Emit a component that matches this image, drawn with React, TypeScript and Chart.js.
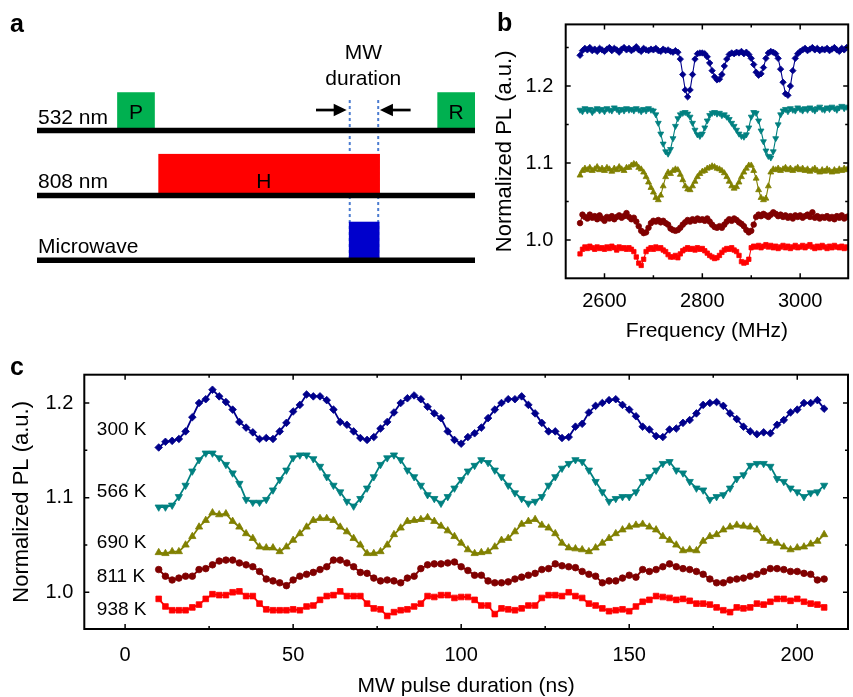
import { useEffect, useRef } from 'react';
import { Chart, registerables } from 'chart.js';
Chart.register(...registerables);

const FONT = '"Liberation Sans", Arial, Helvetica, sans-serif';
Chart.defaults.font.family = FONT;
Chart.defaults.color = '#000';

// ---------------- Panel a: pulse sequence (time in arbitrary units 0..100) ----------------
const rowNames = ['532 nm', '808 nm', 'Microwave'];
const rowLevels = [2, 1, 0];
const pulseNames = ['P', 'H', 'R', ''];
const pulseRow = [0, 1, 0, 2];
const pulseStart = [18.3, 27.7, 91.4, 71.2];
const pulseEnd = [26.9, 78.3, 100, 78.2];
const pulseHeight = [0.59, 0.64, 0.59, 0.595];
const pulseLabelAt = [22.6, 51.8, 95.7, 74.7];
const pulseColors = ['#00B050', '#FF0000', '#00B050', '#0000CC'];
const mwWindow = [71.4, 77.9];
const mwGuideTop = 2.47;
const arrowFrom = [63.7, 85.3];
const arrowTo = [70.7, 78.3];
const arrowLevel = 2.316;
const mwText = ['MW', 'duration'];
const mwTextLevel = [3.097, 2.7];
const mwTextAt = 74.5;

// ---------------- Panel b: ODMR spectra ----------------
const FREQ_START = 2550;
const FREQ_STEP = 5;
const odmr300 = [
  1.240, 1.246, 1.249, 1.247, 1.250, 1.246, 1.248, 1.245, 1.249, 1.247,
  1.245, 1.248, 1.250, 1.246, 1.249, 1.247, 1.244, 1.248, 1.250, 1.247,
  1.249, 1.246, 1.248, 1.251, 1.247, 1.245, 1.249, 1.247, 1.246, 1.248,
  1.247, 1.249, 1.246, 1.245, 1.248, 1.246, 1.247, 1.245, 1.244, 1.246,
  1.244, 1.235, 1.215, 1.195, 1.186, 1.195, 1.215, 1.235, 1.242, 1.243,
  1.243, 1.242, 1.238, 1.230, 1.220, 1.212, 1.208, 1.209, 1.215, 1.226,
  1.235, 1.241, 1.243, 1.242, 1.244, 1.243, 1.245, 1.242, 1.244, 1.241,
  1.236, 1.228, 1.218, 1.214, 1.216, 1.224, 1.236, 1.243, 1.245, 1.244,
  1.242, 1.236, 1.222, 1.205, 1.190, 1.188, 1.200, 1.220, 1.236, 1.242,
  1.245, 1.247, 1.249, 1.246, 1.248, 1.250, 1.247, 1.249, 1.246, 1.248,
  1.247, 1.249, 1.246, 1.248, 1.250, 1.247, 1.245, 1.249, 1.247, 1.250,
  1.251,
];
const odmr566 = [
  1.169, 1.167, 1.171, 1.168, 1.170, 1.166, 1.169, 1.171, 1.168, 1.170,
  1.167, 1.171, 1.169, 1.168, 1.172, 1.170, 1.167, 1.170, 1.168, 1.171,
  1.169, 1.170, 1.168, 1.171, 1.169, 1.167, 1.170, 1.168, 1.171, 1.169,
  1.168, 1.163, 1.152, 1.138, 1.125, 1.115, 1.112, 1.118, 1.132, 1.148,
  1.158, 1.163, 1.165, 1.166, 1.164, 1.160, 1.152, 1.143, 1.137, 1.135,
  1.138, 1.146, 1.155, 1.162, 1.165, 1.166, 1.164, 1.165, 1.162, 1.163,
  1.160, 1.157, 1.152, 1.148, 1.143, 1.138, 1.135, 1.134, 1.137, 1.146,
  1.160, 1.166, 1.165, 1.155, 1.142, 1.128, 1.116, 1.109, 1.107, 1.115,
  1.132, 1.150, 1.163, 1.168, 1.170, 1.167, 1.171, 1.169, 1.168, 1.172,
  1.170, 1.168, 1.171, 1.169, 1.172, 1.170, 1.168, 1.171, 1.173, 1.170,
  1.169, 1.172, 1.170, 1.173, 1.171, 1.169, 1.172, 1.174, 1.171, 1.173,
  1.172,
];
const odmr690 = [
  1.084, 1.090, 1.093, 1.091, 1.094, 1.090, 1.092, 1.095, 1.091, 1.093,
  1.090, 1.094, 1.092, 1.089, 1.093, 1.091, 1.095, 1.092, 1.090, 1.094,
  1.094, 1.097, 1.099, 1.098, 1.094, 1.092, 1.088, 1.082, 1.075, 1.068,
  1.062, 1.055, 1.052, 1.058, 1.070, 1.082, 1.088, 1.086, 1.090, 1.092,
  1.091, 1.085, 1.078, 1.070, 1.066, 1.065, 1.070, 1.076, 1.082, 1.086,
  1.089, 1.090, 1.093, 1.094, 1.096, 1.095, 1.093, 1.092, 1.090, 1.087,
  1.082, 1.076, 1.070, 1.067, 1.069, 1.075, 1.082, 1.088, 1.093, 1.097,
  1.097, 1.090, 1.080, 1.065, 1.055, 1.052, 1.054, 1.070, 1.088, 1.092,
  1.091, 1.093, 1.090, 1.092, 1.094, 1.091, 1.093, 1.090, 1.092, 1.094,
  1.091, 1.093, 1.090, 1.092, 1.089, 1.091, 1.093, 1.090, 1.088, 1.091,
  1.089, 1.092, 1.090, 1.088, 1.091, 1.089, 1.092, 1.090, 1.093, 1.091,
  1.094,
];
const odmr811 = [
  1.022, 1.033, 1.030, 1.028, 1.033, 1.029, 1.031, 1.027, 1.032, 1.028,
  1.025, 1.030, 1.028, 1.031, 1.027, 1.030, 1.032, 1.029, 1.031, 1.035,
  1.030, 1.027, 1.029, 1.024, 1.018, 1.012, 1.009, 1.010, 1.016, 1.022,
  1.025, 1.024, 1.026, 1.023, 1.025, 1.022, 1.020, 1.015, 1.013, 1.012,
  1.013, 1.016, 1.020, 1.023, 1.026, 1.024, 1.027, 1.025, 1.028, 1.026,
  1.027, 1.025, 1.028, 1.024, 1.020, 1.017, 1.016, 1.018, 1.016, 1.020,
  1.024, 1.027, 1.025, 1.028, 1.026, 1.023, 1.021, 1.018, 1.013, 1.010,
  1.012, 1.020, 1.030, 1.033, 1.031, 1.034, 1.032, 1.030, 1.033, 1.036,
  1.034, 1.031, 1.033, 1.030, 1.032, 1.029, 1.031, 1.028, 1.032, 1.030,
  1.032, 1.029, 1.031, 1.033, 1.030, 1.036, 1.029, 1.031, 1.028, 1.030,
  1.029, 1.031, 1.028, 1.030, 1.027, 1.031, 1.029, 1.032, 1.028, 1.030,
  1.031,
];
const odmr938 = [
  0.982, 0.988, 0.991, 0.989, 0.992, 0.990, 0.988, 0.991, 0.989, 0.990,
  0.988, 0.991, 0.989, 0.992, 0.990, 0.987, 0.991, 0.989, 0.990, 0.988,
  0.990, 0.988, 0.985, 0.978, 0.970, 0.967, 0.975, 0.985, 0.988, 0.990,
  0.988, 0.991, 0.989, 0.990, 0.987, 0.985, 0.981, 0.978, 0.978, 0.980,
  0.977, 0.982, 0.986, 0.988, 0.990, 0.988, 0.989, 0.987, 0.990, 0.988,
  0.989, 0.986, 0.983, 0.980, 0.978, 0.976, 0.977, 0.980, 0.984, 0.987,
  0.989, 0.988, 0.990, 0.987, 0.985, 0.980, 0.972, 0.970, 0.971, 0.975,
  0.990, 0.992, 0.991, 0.993, 0.990, 0.992, 0.994, 0.991, 0.993, 0.990,
  0.992, 0.989, 0.991, 0.993, 0.990, 0.992, 0.989, 0.991, 0.993, 0.990,
  0.991, 0.993, 0.990, 0.992, 0.994, 0.991, 0.989, 0.992, 0.990, 0.993,
  0.991, 0.989, 0.992, 0.990, 0.993, 0.991, 0.990, 0.992, 0.989, 0.991,
  0.990,
];
const freqMHz = odmr300.map((_, i) => FREQ_START + FREQ_STEP * i);

// ---------------- Panel c: Rabi oscillations ----------------
const T_START = 10;
const T_STEP = 2;
const rabi300 = [
  1.153, 1.159, 1.160, 1.162, 1.170, 1.185, 1.200, 1.204, 1.214, 1.207,
  1.201, 1.193, 1.180, 1.174, 1.169, 1.162, 1.163, 1.162, 1.170, 1.179,
  1.191, 1.198, 1.209, 1.207, 1.207, 1.203, 1.193, 1.180, 1.177, 1.170,
  1.163, 1.161, 1.164, 1.173, 1.180, 1.190, 1.200, 1.205, 1.208, 1.204,
  1.196, 1.189, 1.184, 1.170, 1.161, 1.157, 1.164, 1.168, 1.174, 1.184,
  1.193, 1.200, 1.204, 1.204, 1.207, 1.198, 1.189, 1.179, 1.170, 1.170,
  1.163, 1.164, 1.175, 1.178, 1.190, 1.197, 1.200, 1.203, 1.204, 1.198,
  1.193, 1.186, 1.175, 1.172, 1.165, 1.164, 1.172, 1.173, 1.179, 1.182,
  1.189, 1.198, 1.200, 1.201, 1.197, 1.189, 1.183, 1.175, 1.170, 1.167,
  1.169, 1.168, 1.177, 1.182, 1.190, 1.193, 1.200, 1.200, 1.203, 1.194,
];
const rabi566 = [
  1.090, 1.090, 1.092, 1.101, 1.113, 1.128, 1.140, 1.147, 1.147, 1.142,
  1.135, 1.126, 1.115, 1.098, 1.095, 1.095, 1.098, 1.108, 1.119, 1.129,
  1.142, 1.145, 1.145, 1.141, 1.133, 1.122, 1.113, 1.106, 1.096, 1.091,
  1.099, 1.110, 1.122, 1.135, 1.142, 1.145, 1.140, 1.129, 1.122, 1.113,
  1.103, 1.099, 1.094, 1.101, 1.110, 1.119, 1.128, 1.134, 1.140, 1.137,
  1.129, 1.122, 1.113, 1.105, 1.099, 1.094, 1.096, 1.101, 1.113, 1.122,
  1.131, 1.136, 1.140, 1.138, 1.129, 1.117, 1.106, 1.096, 1.099, 1.101,
  1.101, 1.106, 1.117, 1.122, 1.129, 1.136, 1.138, 1.129, 1.126, 1.117,
  1.110, 1.108, 1.098, 1.101, 1.103, 1.110, 1.120, 1.124, 1.134, 1.136,
  1.136, 1.133, 1.120, 1.117, 1.110, 1.106, 1.101, 1.105, 1.106, 1.113,
];
const rabi690 = [
  1.042, 1.041, 1.043, 1.043, 1.050, 1.059, 1.069, 1.076, 1.084, 1.082,
  1.083, 1.075, 1.069, 1.062, 1.057, 1.048, 1.047, 1.047, 1.043, 1.048,
  1.055, 1.062, 1.069, 1.076, 1.078, 1.078, 1.076, 1.069, 1.064, 1.057,
  1.050, 1.041, 1.041, 1.043, 1.050, 1.061, 1.068, 1.075, 1.076, 1.077,
  1.079, 1.075, 1.070, 1.065, 1.059, 1.052, 1.045, 1.041, 1.042, 1.043,
  1.048, 1.055, 1.057, 1.064, 1.072, 1.075, 1.077, 1.071, 1.068, 1.062,
  1.052, 1.047, 1.046, 1.045, 1.043, 1.047, 1.052, 1.057, 1.062, 1.066,
  1.069, 1.071, 1.072, 1.069, 1.066, 1.059, 1.055, 1.050, 1.044, 1.045,
  1.044, 1.054, 1.059, 1.061, 1.066, 1.069, 1.071, 1.070, 1.069, 1.066,
  1.057, 1.054, 1.052, 1.048, 1.045, 1.047, 1.048, 1.051, 1.054, 1.061,
];
const rabi811 = [
  1.024, 1.017, 1.013, 1.015, 1.017, 1.017, 1.024, 1.025, 1.029, 1.033,
  1.034, 1.034, 1.031, 1.029, 1.027, 1.022, 1.014, 1.012, 1.010, 1.007,
  1.013, 1.017, 1.019, 1.021, 1.024, 1.027, 1.034, 1.034, 1.031, 1.027,
  1.021, 1.020, 1.015, 1.012, 1.013, 1.012, 1.010, 1.015, 1.017, 1.025,
  1.029, 1.030, 1.030, 1.031, 1.032, 1.027, 1.023, 1.018, 1.018, 1.012,
  1.010, 1.010, 1.011, 1.014, 1.016, 1.018, 1.020, 1.024, 1.025, 1.030,
  1.028, 1.027, 1.026, 1.022, 1.019, 1.017, 1.010, 1.012, 1.012, 1.015,
  1.018, 1.016, 1.024, 1.022, 1.024, 1.027, 1.030, 1.027, 1.025, 1.024,
  1.022, 1.019, 1.014, 1.010, 1.010, 1.013, 1.014, 1.015, 1.017, 1.019,
  1.022, 1.025, 1.025, 1.024, 1.022, 1.022, 1.020, 1.019, 1.013, 1.014,
];
const rabi938 = [
  0.993, 0.985, 0.981, 0.981, 0.981, 0.984, 0.987, 0.993, 0.998, 0.997,
  0.997, 1.000, 1.001, 0.996, 0.996, 0.988, 0.982, 0.981, 0.981, 0.981,
  0.982, 0.981, 0.985, 0.986, 0.992, 0.996, 0.997, 1.001, 0.996, 0.996,
  0.996, 0.988, 0.983, 0.982, 0.975, 0.979, 0.981, 0.982, 0.985, 0.988,
  0.996, 0.995, 0.997, 0.997, 0.994, 0.995, 0.995, 0.992, 0.986, 0.986,
  0.977, 0.983, 0.982, 0.981, 0.983, 0.986, 0.986, 0.994, 0.997, 0.997,
  0.996, 1.000, 0.996, 0.994, 0.988, 0.986, 0.983, 0.980, 0.981, 0.982,
  0.980, 0.985, 0.990, 0.992, 0.996, 0.995, 0.994, 0.992, 0.993, 0.991,
  0.988, 0.988, 0.987, 0.984, 0.981, 0.979, 0.984, 0.983, 0.984, 0.988,
  0.987, 0.990, 0.993, 0.993, 0.991, 0.993, 0.990, 0.988, 0.987, 0.984,
];
const pulseNs = rabi300.map((_, i) => T_START + T_STEP * i);

const temperatures = ['300 K', '566 K', '690 K', '811 K', '938 K'];
const odmrSeries = [odmr300, odmr566, odmr690, odmr811, odmr938];
const rabiSeries = [rabi300, rabi566, rabi690, rabi811, rabi938];
const tempLabelNs = -8.4;
const tempLabelLevel = [1.1715, 1.106, 1.052, 1.016, 0.982];

// ---------------- styles ----------------
const seriesColors = ['#00008B', '#008080', '#808000', '#800000', '#FF0000'];
const seriesStyles = ['rectRot', 'triangle', 'triangle', 'circle', 'rect'];
const seriesRotation = [0, 180, 0, 0, 0];
const radiusC = [3.8, 4.2, 4.2, 3.3, 4.0];
const radiusB = [3.2, 3.4, 3.4, 2.8, 3.1];

const isMajor = (v: number, m: number) => Math.abs(v / m - Math.round(v / m)) < 1e-6;

function framePlugin(xMajor: number, yMajor: number) {
  return {
    id: 'frame',
    afterDatasetsDraw(chart: any) {
      const { ctx, chartArea: a, scales } = chart;
      const xs = scales.x;
      const ys = scales.y;
      ctx.save();
      ctx.strokeStyle = '#000';
      ctx.lineWidth = 1.5;
      ctx.beginPath();
      for (const t of xs.ticks) {
        const p = xs.getPixelForValue(t.value);
        const len = isMajor(t.value, xMajor) ? 5 : 3;
        ctx.moveTo(p, a.bottom);
        ctx.lineTo(p, a.bottom - len);
        ctx.moveTo(p, a.top);
        ctx.lineTo(p, a.top + len);
      }
      for (const t of ys.ticks) {
        const p = ys.getPixelForValue(t.value);
        const len = isMajor(t.value, yMajor) ? 5 : 3;
        ctx.moveTo(a.left, p);
        ctx.lineTo(a.left + len, p);
        ctx.moveTo(a.right, p);
        ctx.lineTo(a.right - len, p);
      }
      ctx.stroke();
      ctx.lineWidth = 2;
      ctx.strokeRect(a.left, a.top, a.right - a.left, a.bottom - a.top);
      ctx.restore();
    },
  };
}

function letterPlugin(letter: string, px: number, py: number) {
  return {
    id: 'letter',
    afterDraw(chart: any) {
      const { ctx } = chart;
      ctx.save();
      ctx.fillStyle = '#000';
      ctx.font = `bold 25px ${FONT}`;
      ctx.textAlign = 'left';
      ctx.textBaseline = 'alphabetic';
      ctx.fillText(letter, px, py);
      ctx.restore();
    },
  };
}

function makeDatasets(series: number[][], xs: number[], radii: number[], width: number) {
  return series.map((vals, i) => ({
    label: temperatures[i],
    data: vals.map((v, j) => ({ x: xs[j], y: v })),
    borderColor: seriesColors[i],
    backgroundColor: seriesColors[i],
    pointBackgroundColor: seriesColors[i],
    pointBorderColor: seriesColors[i],
    pointBorderWidth: 0.8,
    borderWidth: width,
    pointStyle: seriesStyles[i],
    rotation: seriesRotation[i],
    pointRotation: seriesRotation[i],
    pointRadius: radii[i],
    tension: 0,
    fill: false,
  }));
}

function axisOpts(min: number, max: number, step: number, major: number, digits: number,
  pad: number, title: string, fitSize: number, horizontal: boolean) {
  return {
    type: 'linear',
    min,
    max,
    grid: { display: false, drawTicks: false },
    border: { display: false },
    ticks: {
      stepSize: step,
      includeBounds: false,
      autoSkip: false,
      maxRotation: 0,
      padding: pad,
      color: '#000',
      font: { size: 20, family: FONT },
      callback: (v: number) => (isMajor(v, major) ? v.toFixed(digits) : ''),
    },
    title: {
      display: true,
      text: title,
      color: '#000',
      font: { size: horizontal ? 21 : 22, family: FONT, lineHeight: 1 },
      padding: 0,
    },
    afterFit: (s: any) => {
      if (horizontal) s.height = fitSize;
      else s.width = fitSize;
    },
  };
}

const baseOpts = {
  animation: false,
  responsive: false,
  devicePixelRatio: 1,
  events: [],
};

function configA(): any {
  const schematic = {
    id: 'schematic',
    beforeDatasetsDraw(chart: any) {
      const { ctx } = chart;
      const { x, y } = chart.scales;
      ctx.save();
      ctx.strokeStyle = '#4A7BD0';
      ctx.lineWidth = 2;
      ctx.setLineDash([3, 3]);
      for (const t of mwWindow) {
        const px = x.getPixelForValue(t);
        ctx.beginPath();
        ctx.moveTo(px, y.getPixelForValue(mwGuideTop));
        ctx.lineTo(px, y.getPixelForValue(rowLevels[2]));
        ctx.stroke();
      }
      ctx.setLineDash([]);
      pulseNames.forEach((_, i) => {
        const lvl = rowLevels[pulseRow[i]];
        const x0 = x.getPixelForValue(pulseStart[i]);
        const x1 = x.getPixelForValue(pulseEnd[i]);
        const y0 = y.getPixelForValue(lvl);
        const y1 = y.getPixelForValue(lvl + pulseHeight[i]);
        ctx.fillStyle = pulseColors[i];
        ctx.fillRect(x0, y1, x1 - x0, y0 - y1);
      });
      ctx.restore();
    },
    afterDatasetsDraw(chart: any) {
      const { ctx } = chart;
      const { x, y } = chart.scales;
      ctx.save();
      ctx.fillStyle = '#000';
      ctx.strokeStyle = '#000';
      ctx.font = `21px ${FONT}`;
      ctx.textBaseline = 'alphabetic';
      ctx.textAlign = 'left';
      rowNames.forEach((name, i) => {
        ctx.fillText(name, x.getPixelForValue(0) + 1, y.getPixelForValue(rowLevels[i]) - 7);
      });
      ctx.textAlign = 'center';
      const lifts = [11.5, 7.3, 11.5, 0];
      pulseNames.forEach((name, i) => {
        if (!name) return;
        ctx.fillText(name, x.getPixelForValue(pulseLabelAt[i]), y.getPixelForValue(rowLevels[pulseRow[i]]) - lifts[i]);
      });
      mwText.forEach((t, i) => {
        ctx.fillText(t, x.getPixelForValue(mwTextAt), y.getPixelForValue(mwTextLevel[i]));
      });
      const yy = y.getPixelForValue(arrowLevel);
      arrowFrom.forEach((f, i) => {
        const xa = x.getPixelForValue(f);
        const xb = x.getPixelForValue(arrowTo[i]);
        const dir = Math.sign(xb - xa);
        ctx.lineWidth = 2.7;
        ctx.beginPath();
        ctx.moveTo(xa, yy);
        ctx.lineTo(xb - dir * 10, yy);
        ctx.stroke();
        ctx.beginPath();
        ctx.moveTo(xb, yy);
        ctx.lineTo(xb - dir * 13, yy - 6.3);
        ctx.lineTo(xb - dir * 13, yy + 6.3);
        ctx.closePath();
        ctx.fill();
      });
      ctx.restore();
    },
  };
  return {
    type: 'line',
    data: {
      datasets: rowLevels.map((lvl) => ({
        data: [{ x: 0, y: lvl }, { x: 100, y: lvl }],
        borderColor: '#000',
        borderWidth: 5.5,
        borderCapStyle: 'butt',
        pointRadius: 0,
        clip: false,
      })),
    },
    options: {
      ...baseOpts,
      layout: { padding: { left: 37, right: 378, top: 26.7, bottom: 423.7 } },
      plugins: { legend: { display: false }, tooltip: { enabled: false } },
      scales: {
        x: { type: 'linear', display: false, min: 0, max: 100 },
        y: { type: 'linear', display: false, min: -0.2, max: 3.6 },
      },
    },
    plugins: [schematic, letterPlugin('a', 10, 31.7)],
  };
}

function configB(): any {
  return {
    type: 'line',
    data: { datasets: makeDatasets(odmrSeries, freqMHz, radiusB, 1.1) },
    options: {
      ...baseOpts,
      layout: { padding: { left: 494, right: 1, top: 24.3, bottom: 354.8 } },
      plugins: { legend: { display: false }, tooltip: { enabled: false } },
      scales: {
        x: axisOpts(2520.7, 3098.2, 100, 200, 0, 11.4, 'Frequency (MHz)', 63.9, true),
        y: axisOpts(0.9503, 1.2801, 0.05, 0.1, 1, 12.4, 'Normalized PL (a.u.)', 71.7, false),
      },
    },
    plugins: [framePlugin(200, 0.1), letterPlugin('b', 497, 30.7)],
  };
}

function configC(): any {
  const tempLabels = {
    id: 'tempLabels',
    afterDatasetsDraw(chart: any) {
      const { ctx } = chart;
      const { x, y } = chart.scales;
      ctx.save();
      ctx.fillStyle = '#000';
      ctx.font = `19px ${FONT}`;
      ctx.textAlign = 'left';
      ctx.textBaseline = 'middle';
      temperatures.forEach((t, i) => {
        ctx.fillText(t, x.getPixelForValue(tempLabelNs), y.getPixelForValue(tempLabelLevel[i]));
      });
      ctx.restore();
    },
  };
  return {
    type: 'line',
    data: { datasets: makeDatasets(rabiSeries, pulseNs, radiusC, 1.8) },
    options: {
      ...baseOpts,
      layout: { padding: { left: 11, right: 1.3, top: 374.7, bottom: 0 } },
      plugins: { legend: { display: false }, tooltip: { enabled: false } },
      scales: {
        x: axisOpts(-12.14, 215.1, 25, 50, 0, 14, 'MW pulse duration (ns)', 68, true),
        y: axisOpts(0.9612, 1.2299, 0.05, 0.1, 1, 11, 'Normalized PL (a.u.)', 73.3, false),
      },
    },
    plugins: [framePlugin(50, 0.1), tempLabels, letterPlugin('c', 10, 375)],
  };
}

export default function App() {
  const aRef = useRef<HTMLCanvasElement>(null);
  const bRef = useRef<HTMLCanvasElement>(null);
  const cRef = useRef<HTMLCanvasElement>(null);
  useEffect(() => {
    const charts = [
      new Chart(aRef.current as HTMLCanvasElement, configA()),
      new Chart(bRef.current as HTMLCanvasElement, configB()),
      new Chart(cRef.current as HTMLCanvasElement, configC()),
    ];
    return () => charts.forEach((c) => c.destroy());
  }, []);
  const cv: any = { position: 'absolute', left: 0, top: 0, width: '853px', height: '697px' };
  return (
    <div style={{ position: 'absolute', left: 0, top: 0, width: 853, height: 697, background: '#fff' }}>
      <canvas ref={aRef} width={853} height={697} style={cv} />
      <canvas ref={bRef} width={853} height={697} style={cv} />
      <canvas ref={cRef} width={853} height={697} style={cv} />
    </div>
  );
}
